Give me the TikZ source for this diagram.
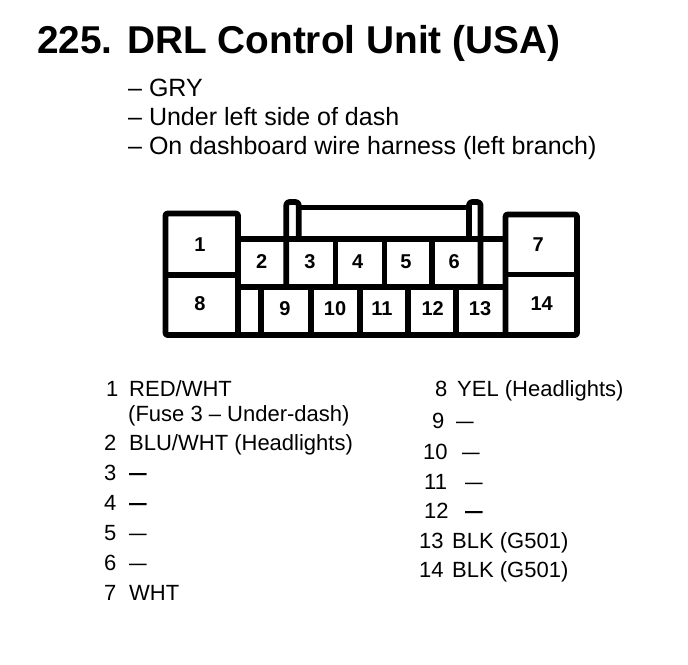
\documentclass[tikz,border=0pt]{standalone}
\usepackage{fontspec}
\usepackage{graphicx}
\setmainfont{Liberation Sans}
\newcommand{\thindash}{\scalebox{0.8}[1]{—}}
\newcommand{\thickdash}{\scalebox{0.8}[1]{\textbf{—}}}
\begin{document}
\begin{tikzpicture}[x=1pt,y=-1pt,
  conn/.style={line width=5.7pt,line join=round,line cap=rect},
  pin/.style={font=\fontsize{20}{22}\selectfont\bfseries,inner sep=0pt},
  txt/.style={font=\fontsize{22}{24}\selectfont,inner sep=0pt,anchor=base west},
  num/.style={font=\fontsize{22}{24}\selectfont,inner sep=0pt,anchor=base west},
  sub/.style={font=\fontsize{25}{27}\selectfont,inner sep=0pt,anchor=base west}]
\useasboundingbox (0,0) rectangle (688,664);
% title
\node[inner sep=0pt,anchor=base west,font=\fontsize{38.8}{40}\selectfont\bfseries] (title) at (37,53) {225. DRL Control Unit (USA)};
\node[sub] (s1) at (128,96) {– GRY};
\node[sub] (s2) at (128,125) {– Under left side of dash};
\node[sub] (s3) at (128,154) {– On dashboard wire harness (left branch)};
% connector
\draw[conn,rounded corners=2pt] (165.5,213.5) rectangle (238,335);
\draw[conn] (165.5,275) -- (238,275);
\draw[conn,rounded corners=2pt] (505.5,214.5) rectangle (577,335);
\draw[conn] (505.5,274.5) -- (577,274.5);
\draw[conn] (238,239) -- (505.5,239);
\draw[conn] (238,287) -- (505.5,287);
\draw[conn] (238,335) -- (505.5,335);
% latch
\draw[conn,rounded corners=3pt] (286.3,287) -- (286.3,202) -- (298.7,202) -- (298.7,239);
\draw[conn,rounded corners=3pt] (469,239) -- (469,202) -- (480.5,202) -- (480.5,287);
\draw[conn] (298.7,207.5) -- (469,207.5);
% top row dividers
\foreach \x in {335.5,384.5,432} \draw[conn] (\x,239) -- (\x,287);
% bottom row dividers
\foreach \x in {261.3,311,359.7,408,456.3} \draw[conn] (\x,287) -- (\x,335);
% pin numbers
\node[pin] (p1) at (200,245) {1};
\node[pin] (p8) at (200,304) {8};
\node[pin] (p2) at (261.7,262) {2};
\node[pin] (p3) at (310,262) {3};
\node[pin] (p4) at (357.7,262) {4};
\node[pin] (p5) at (406,262) {5};
\node[pin] (p6) at (454.3,262) {6};
\node[pin] (p7) at (538.3,245) {7};
\node[pin] (p9) at (285,309) {9};
\node[pin] (p10) at (335,309) {10};
\node[pin] (p11) at (382,309) {11};
\node[pin] (p12) at (432.7,309) {12};
\node[pin] (p13) at (480,309) {13};
\node[pin] (p14) at (541.7,304) {14};
% left list
\node[num] (n1) at (106,396) {1};
\node[txt] (t1) at (129,396) {RED/WHT};
\node[txt] (t1b) at (128,421) {(Fuse 3 – Under-dash)};
\node[num] (n2) at (104,450) {2};
\node[txt] (t2) at (129,450) {BLU/WHT (Headlights)};
\node[num] (n3) at (104,480) {3};
\node[txt] (t3) at (129,480) {\thickdash};
\node[num] (n4) at (104,510) {4};
\node[txt] (t4) at (129,510) {\thickdash};
\node[num] (n5) at (104,540) {5};
\node[txt] (t5) at (129,540) {\thindash};
\node[num] (n6) at (104,570) {6};
\node[txt] (t6) at (129,570) {\thindash};
\node[num] (n7) at (104,600) {7};
\node[txt] (t7) at (129,600) {WHT};
% right list
\node[num] (n8) at (435,396) {8};
\node[txt] (t8) at (457,396) {YEL (Headlights)};
\node[num] (n9) at (432,428) {9};
\node[txt] (t9) at (456,428) {\thindash};
\node[num] (n10) at (423,459) {10};
\node[txt] (t10) at (462,459) {\thindash};
\node[num] (n11) at (424,489) {11};
\node[txt] (t11) at (465,489) {\thindash};
\node[num] (n12) at (424,518) {12};
\node[txt] (t12) at (465,518) {\thickdash};
\node[num] (n13) at (419,548) {13};
\node[txt] (t13) at (452,548) {BLK (G501)};
\node[num] (n14) at (419,577) {14};
\node[txt] (t14) at (452,577) {BLK (G501)};
\end{tikzpicture}
\end{document}
